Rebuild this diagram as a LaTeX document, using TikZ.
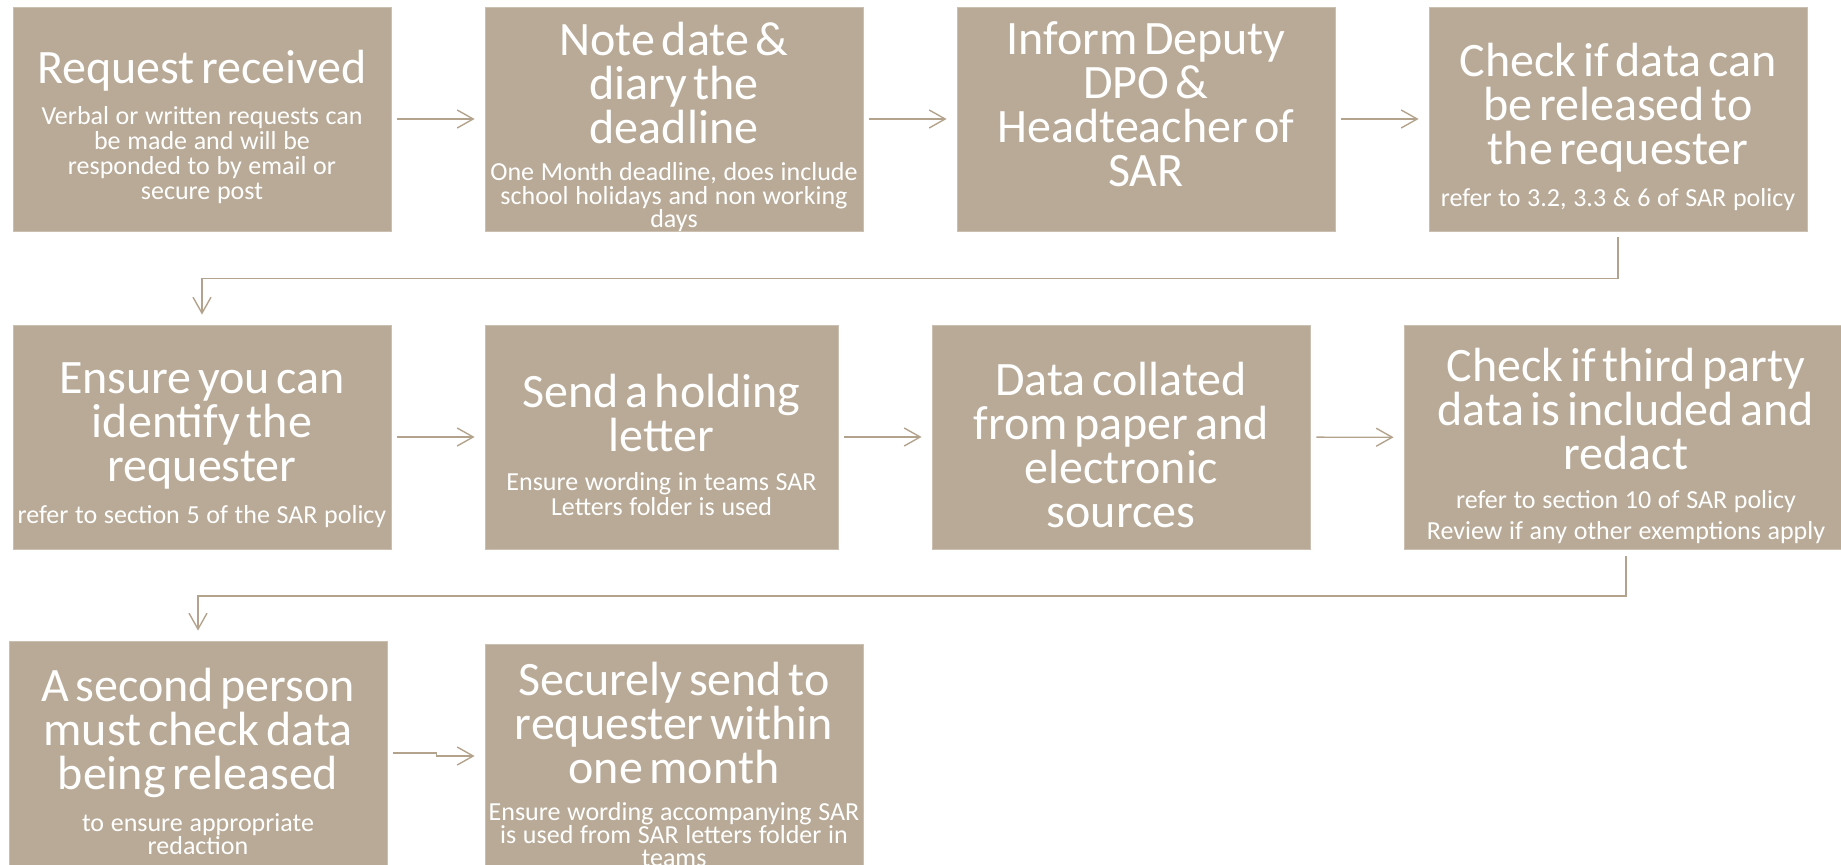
\documentclass[tikz,border=0pt]{standalone}
\usepackage{fontspec}
\setmainfont{Carlito}
\usetikzlibrary{arrows.meta}
\definecolor{stepfill}{HTML}{B9AA97}
\definecolor{stepline}{HTML}{B3A38D}
\newcommand{\stephead}[1]{{\fontsize{24}{22}\selectfont #1\par}}
\newcommand{\stepnote}[2][12.5]{\vspace{7pt}{\fontsize{13}{#1}\selectfont #2\par}}
\newcommand{\stepbody}[1]{\raisebox{-6.5pt}[0pt][0pt]{\begin{minipage}[c]{\linewidth}\centering #1\end{minipage}}}

\begin{document}
\begin{tikzpicture}[x=0.5pt,y=-0.5pt,
  stepbox/.style={rectangle,fill=stepfill,draw=stepfill!75!white,line width=0.4pt,text=white,
    minimum width=189pt,minimum height=112pt,text width=187pt,inner sep=1pt,align=center},
  flow/.style={draw=stepline,line width=0.7pt,->,>={Straight Barb[length=8pt,width=9pt]},
    shorten <=3pt,shorten >=5pt}]
\useasboundingbox (0,0) rectangle (1841,865);
\node[stepbox] (RR)at(202,119){\stepbody{\stephead{Request received}\stepnote{Verbal or written requests can\\ be made and will be\\ responded to by email or\\ secure post}}};
\node[stepbox] (ND)at(674,119){\stepbody{\stephead{Note date \&\\ diary the\\ deadline}\stepnote[11.75]{One Month deadline, does include\\ school holidays and non working\\ days}}};
\node[stepbox] (ID)at(1146,119){\stepbody{\stephead{Inform Deputy\\ DPO \&\\ Headteacher of\\ SAR}\vspace{11pt}\mbox{}}};
\node[stepbox] (CR)at(1618,119){\stepbody{\stephead{Check if data can\\ be released to\\ the requester}\stepnote{refer to 3.2, 3.3 \& 6 of SAR policy}}};
\node[stepbox] (EI)at(202,437){\stepbody{\stephead{Ensure you can\\ identify the\\ requester}\stepnote{refer to section 5 of the SAR policy}}};
\node[stepbox,minimum width=176.5pt,text width=174.5pt] (HL)at(661.5,437){\stepbody{\stephead{Send a holding\\ letter}\stepnote{Ensure wording in teams SAR\\ Letters folder is used}}};
\node[stepbox] (DC)at(1121,437){\stepbody{\stephead{Data collated\\ from paper and\\ electronic\\ sources}}};
\node[stepbox,minimum width=222pt,text width=220pt] (TP)at(1626,437.5){\stepbody{\stephead{Check if third party\\ data is included and\\ redact}\stepnote{refer to section 10 of SAR policy\\[3pt] Review if any other exemptions apply}}};
\node[stepbox] (SP)at(198,753){\stepbody{\stephead{A second person\\ must check data\\ being released}\stepnote[11.5]{to ensure appropriate\\ redaction}}};
\node[stepbox] (SS)at(674,756){\stepbody{\stephead{Securely send to\\ requester within\\ one month}\stepnote[11.5]{Ensure wording accompanying SAR\\ is used from SAR letters folder in\\ teams}}};
\draw[flow] (RR) to (ND);
\draw[flow] (ND) to (ID);
\draw[flow] (ID) to (CR);
\draw[flow] (CR.south) -- ++(0,47) -| (EI.north);
\draw[flow] (EI) to (HL);
\draw[flow] (HL) to (DC);
\draw[flow] (DC) to (TP);
\draw[flow] (TP.south) -- ++(0,46) -| (SP.north);
\draw[flow] (SP.east) -- ++(49,0) |- (SS.west);
\end{tikzpicture}
\end{document}
